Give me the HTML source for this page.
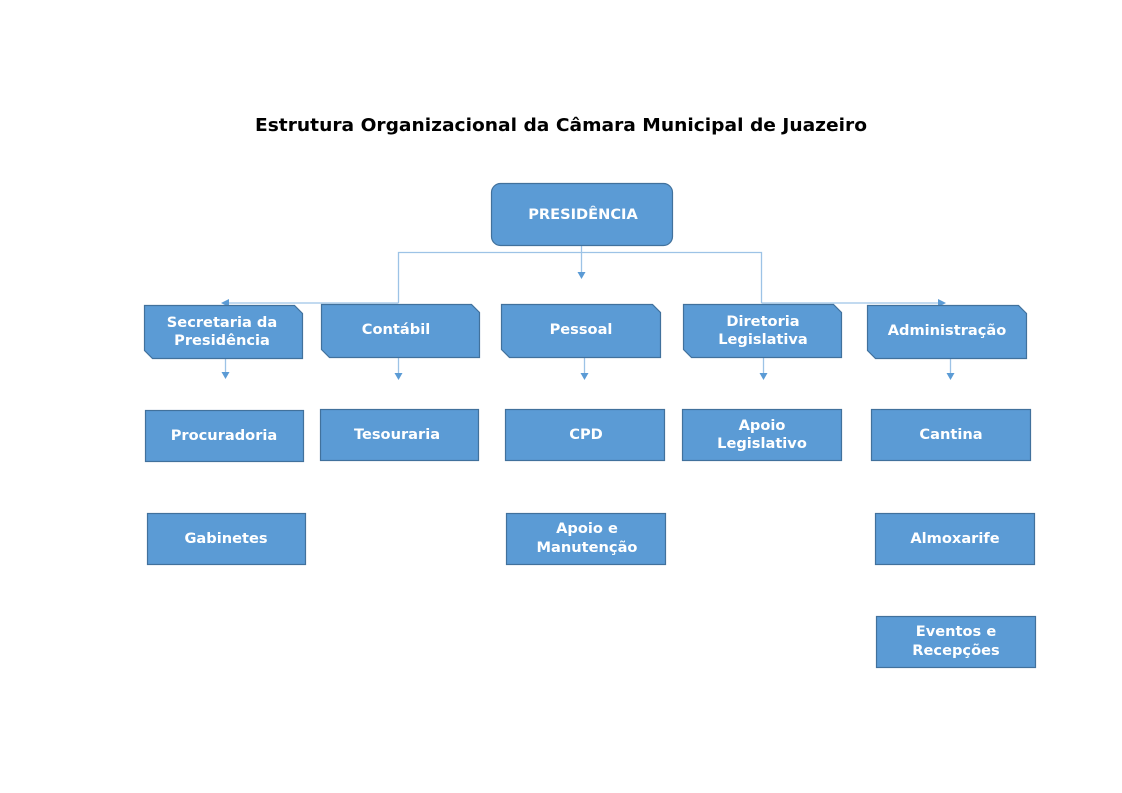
<!DOCTYPE html>
<html><head><meta charset="utf-8"><style>
html,body{margin:0;padding:0;background:#fff;}
svg{display:block;}
text{font-family:"DejaVu Sans","Liberation Sans",sans-serif;font-weight:bold;}
.b{fill:#5b9bd5;stroke:#41719c;stroke-width:1.2;}
.t{fill:#fff;font-size:14.6px;text-anchor:middle;}
.l{stroke:#9dc3e6;stroke-width:1.3;fill:none;}
.a{fill:#5b9bd5;}
</style></head><body>
<svg width="1122" height="793" viewBox="0 0 1122 793" xmlns="http://www.w3.org/2000/svg">
<text x="561" y="131" font-size="18" text-anchor="middle" fill="#000" textLength="612" lengthAdjust="spacingAndGlyphs">Estrutura Organizacional da Câmara Municipal de Juazeiro</text>

<path class="l" d="M398.5,303 V252.5 H761.5 V303"/>
<path class="l" d="M398.5,303 H228"/>
<path class="l" d="M761.5,303 H940"/>
<path class="l" d="M581.5,246 V273"/>
<polygon class="a" points="577.5,272 585.5,272 581.5,279"/>
<polygon class="a" points="229,299 229,307 221,303"/>
<polygon class="a" points="938,299 938,307 946,303"/>

<path class="l" d="M225.5,358 V373"/><polygon class="a" points="221.5,372 229.5,372 225.5,379"/>
<path class="l" d="M398.5,357 V374"/><polygon class="a" points="394.5,373 402.5,373 398.5,380"/>
<path class="l" d="M584.5,357 V374"/><polygon class="a" points="580.5,373 588.5,373 584.5,380"/>
<path class="l" d="M763.5,357 V374"/><polygon class="a" points="759.5,373 767.5,373 763.5,380"/>
<path class="l" d="M950.5,358 V374"/><polygon class="a" points="946.5,373 954.5,373 950.5,380"/>

<rect class="b" x="491.5" y="183.5" width="181" height="62" rx="9"/>
<text class="t" x="583" y="219">PRESIDÊNCIA</text>

<path class="b" d="M144.5,305.5 H294.5 L302.5,313.5 V358.5 H152.5 L144.5,350.5 Z"/>
<text class="t" x="222" y="327">Secretaria da</text><text class="t" x="222" y="345">Presidência</text>
<path class="b" d="M321.5,304.5 H471.5 L479.5,312.5 V357.5 H329.5 L321.5,349.5 Z"/>
<text class="t" x="396" y="334">Contábil</text>
<path class="b" d="M501.5,304.5 H652.5 L660.5,312.5 V357.5 H509.5 L501.5,349.5 Z"/>
<text class="t" x="581" y="334">Pessoal</text>
<path class="b" d="M683.5,304.5 H833.5 L841.5,312.5 V357.5 H691.5 L683.5,349.5 Z"/>
<text class="t" x="763" y="326">Diretoria</text><text class="t" x="763" y="344">Legislativa</text>
<path class="b" d="M867.5,305.5 H1018.5 L1026.5,313.5 V358.5 H875.5 L867.5,350.5 Z"/>
<text class="t" x="947" y="335">Administração</text>

<rect class="b" x="145.5" y="410.5" width="158" height="51"/>
<text class="t" x="224" y="440">Procuradoria</text>
<rect class="b" x="320.5" y="409.5" width="158" height="51"/>
<text class="t" x="397" y="439">Tesouraria</text>
<rect class="b" x="505.5" y="409.5" width="159" height="51"/>
<text class="t" x="586" y="439">CPD</text>
<rect class="b" x="682.5" y="409.5" width="159" height="51"/>
<text class="t" x="762" y="430">Apoio</text><text class="t" x="762" y="448">Legislativo</text>
<rect class="b" x="871.5" y="409.5" width="159" height="51"/>
<text class="t" x="951" y="439">Cantina</text>

<rect class="b" x="147.5" y="513.5" width="158" height="51"/>
<text class="t" x="226" y="543">Gabinetes</text>
<rect class="b" x="506.5" y="513.5" width="159" height="51"/>
<text class="t" x="587" y="533">Apoio e</text><text class="t" x="587" y="552">Manutenção</text>
<rect class="b" x="875.5" y="513.5" width="159" height="51"/>
<text class="t" x="955" y="543">Almoxarife</text>
<rect class="b" x="876.5" y="616.5" width="159" height="51"/>
<text class="t" x="956" y="636">Eventos e</text><text class="t" x="956" y="655">Recepções</text>
</svg>
</body></html>
